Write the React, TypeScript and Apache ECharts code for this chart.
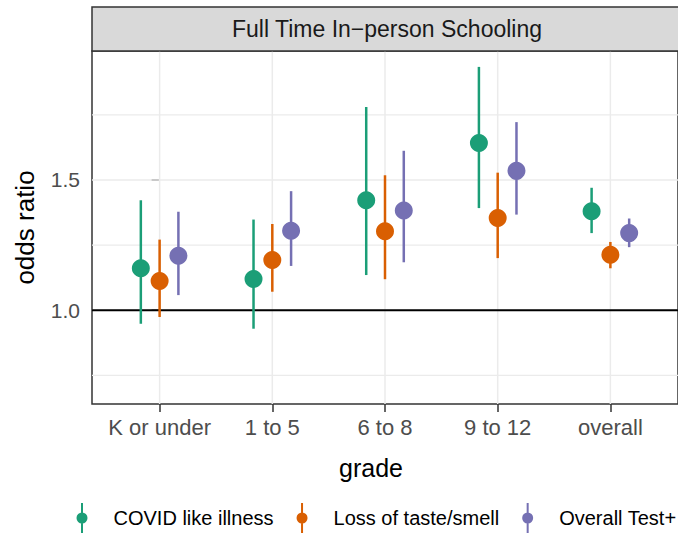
import React, { useEffect, useRef } from "react";
import * as echarts from "echarts";

const categories = ["K or under", "1 to 5", "6 to 8", "9 to 12", "overall"];
const seriesNames = ["COVID like illness", "Loss of taste/smell", "Overall Test+"];
const colors = ["#1B9E77", "#D95F02", "#7570B3"];

const covidOR = [1.161, 1.12, 1.422, 1.642, 1.38];
const covidLo = [0.948, 0.929, 1.135, 1.392, 1.296];
const covidHi = [1.422, 1.348, 1.78, 1.934, 1.47];

const tasteOR = [1.112, 1.193, 1.303, 1.354, 1.213];
const tasteLo = [0.974, 1.071, 1.119, 1.2, 1.161];
const tasteHi = [1.271, 1.331, 1.518, 1.528, 1.262];

const testOR = [1.209, 1.305, 1.383, 1.535, 1.296];
const testLo = [1.058, 1.17, 1.184, 1.367, 1.242];
const testHi = [1.378, 1.457, 1.612, 1.722, 1.352];

const yTicks = [1.0, 1.5];
const yMinor = [0.75, 1.25, 1.75];
const refLine = 1.0;

const FONT = "'Liberation Sans', Arial, Helvetica, sans-serif";
const dodgeWidth = 0.5;

const keyIcon =
  "path://M4.5,0 L6.5,0 L6.5,10 L4.5,10 Z M4.5,20 L6.5,20 L6.5,30 L4.5,30 Z M0,15 A5.5,5.5 0 1 1 11,15 A5.5,5.5 0 1 1 0,15 Z";

export default function App() {
  const ref = useRef<HTMLDivElement>(null);
  useEffect(() => {
    document.body.style.margin = "0";
    const chart = echarts.init(ref.current!, null, { renderer: "svg" });
    const groups = [
      { or: covidOR, lo: covidLo, hi: covidHi },
      { or: tasteOR, lo: tasteLo, hi: tasteHi },
      { or: testOR, lo: testLo, hi: testHi },
    ];
    const offsets = groups.map((_, i) => (i - 1) * (dodgeWidth / groups.length));
    const catIdx = categories.map((_, i) => i);

    // grid lines: [orientation (0 horizontal, 1 vertical), value, width, colorIndex]
    const gridItems: number[][] = [
      ...yMinor.map((v) => [0, v, 1.2, 0]),
      ...yTicks.map((v) => [0, v, 1.5, 0]),
      ...catIdx.map((v) => [1, v, 1.5, 0]),
      [0, refLine, 2, 1],
    ];
    const gridColors = ["#EBEBEB", "#000000"];

    const series: any[] = [
      {
        type: "custom",
        silent: true,
        z: 1,
        dimensions: ["o", "v", "w", "c"],
        encode: {},
        data: gridItems,
        renderItem: (params: any, api: any) => {
          const cs = params.coordSys;
          const o = api.value(0);
          const v = api.value(1);
          const w = api.value(2);
          const ci = api.value(3);
          const c = gridColors[ci];
          if (o === 0) {
            const y = api.coord([0, v])[1];
            return {
              type: "line",
              z2: ci === 1 ? 10 : 1,
              shape: { x1: cs.x, y1: y, x2: cs.x + cs.width, y2: y },
              style: { stroke: c, lineWidth: w },
            };
          }
          const x = api.coord([v, 1])[0];
          return {
            type: "line",
            z2: 1,
            shape: { x1: x, y1: cs.y, x2: x, y2: cs.y + cs.height },
            style: { stroke: c, lineWidth: w },
          };
        },
      },
    ];
    groups.forEach((g, gi) => {
      series.push({
        type: "custom",
        name: seriesNames[gi],
        z: 3,
        itemStyle: { color: colors[gi] },
        encode: { x: 0, y: [1, 2] },
        data: catIdx.map((c) => [c + offsets[gi], g.lo[c], g.hi[c]]),
        renderItem: (params: any, api: any) => {
          const x = api.value(0);
          const p1 = api.coord([x, api.value(1)]);
          const p2 = api.coord([x, api.value(2)]);
          return {
            type: "line",
            shape: { x1: p1[0], y1: p1[1], x2: p2[0], y2: p2[1] },
            style: { stroke: colors[gi], lineWidth: 2.5 },
          };
        },
      });
    });
    groups.forEach((g, gi) => {
      series.push({
        type: "scatter",
        name: seriesNames[gi],
        z: 4,
        symbol: "circle",
        symbolSize: 18,
        itemStyle: { color: colors[gi], opacity: 1 },
        data: catIdx.map((c) => [c + offsets[gi], g.or[c]]),
      });
    });

    const option: any = {
      animation: false,
      textStyle: { fontFamily: FONT },
      grid: {
        left: 92,
        top: 51,
        width: 589,
        height: 353,
        show: true,
        backgroundColor: "#ffffff",
        borderColor: "#333333",
        borderWidth: 1.5,
      },
      xAxis: {
        type: "value",
        min: -0.6,
        max: 4.6,
        axisLine: { show: false },
        splitLine: { show: false },
        axisTick: { show: true, customValues: catIdx, length: 8, lineStyle: { color: "#333333", width: 1.5 } },
        axisLabel: {
          customValues: catIdx,
          formatter: (v: number) => categories[Math.round(v)],
          margin: 12,
          fontSize: 22,
          color: "#4D4D4D",
          fontFamily: FONT,
        },
        name: "grade",
        nameLocation: "middle",
        nameGap: 51,
        nameTextStyle: { fontSize: 25, color: "#000000", fontFamily: FONT, padding: [0, 28, 0, 0] },
      },
      yAxis: {
        type: "value",
        min: 0.64,
        max: 1.995,
        axisLine: { show: false },
        splitLine: { show: false },
        axisTick: { show: true, customValues: yTicks, length: 8, lineStyle: { color: "#333333", width: 1.5 } },
        axisLabel: {
          customValues: yTicks,
          formatter: (v: number) => v.toFixed(1),
          margin: 12,
          fontSize: 21,
          color: "#4D4D4D",
          fontFamily: FONT,
        },
        name: "odds ratio",
        nameLocation: "middle",
        nameRotate: 90,
        nameGap: 54,
        nameTextStyle: { fontSize: 26, color: "#000000", fontFamily: FONT },
      },
      legend: {
        left: 76.5,
        top: 503,
        width: 640,
        padding: 0,
        orient: "horizontal",
        itemWidth: 11,
        itemHeight: 30,
        itemGap: 23,
        selectedMode: false,
        textStyle: { fontSize: 20, color: "#000000", fontFamily: FONT, padding: [0, 0, 0, 21] },
        data: seriesNames.map((n, i) => ({ name: n, icon: keyIcon, itemStyle: { color: colors[i] } })),
      },
      graphic: [
        {
          type: "rect",
          z: 10,
          shape: { x: 92, y: 7, width: 589, height: 44 },
          style: { fill: "#D9D9D9", stroke: "#333333", lineWidth: 1.5 },
        },
        {
          type: "text",
          z: 11,
          x: 387,
          y: 29,
          style: {
            text: "Full Time In\u2212person Schooling",
            fontSize: 23,
            fill: "#1A1A1A",
            align: "center",
            verticalAlign: "middle",
            fontFamily: FONT,
          },
        },
      ],
      series,
    };
    chart.setOption(option);
    return () => chart.dispose();
  }, []);
  return <div ref={ref} style={{ width: 678, height: 535 }} />;
}
